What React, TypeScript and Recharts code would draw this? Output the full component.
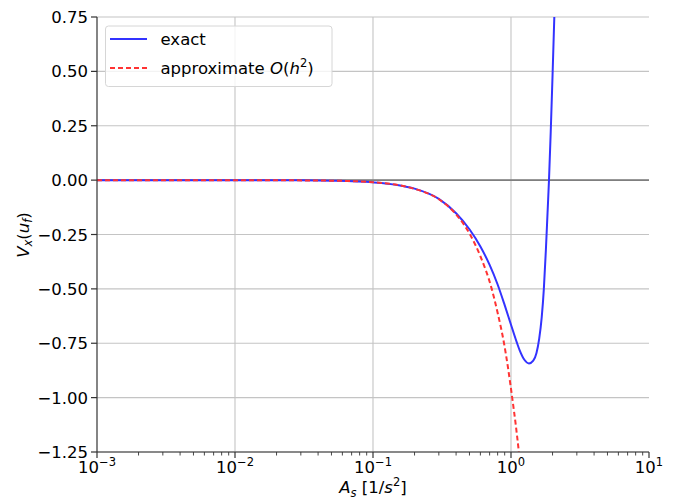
import React from "react";
import { LineChart, Line, XAxis, YAxis, CartesianGrid, ReferenceLine } from "recharts";

const exactX = [0.001, 0.01, 0.03, 0.05, 0.1, 0.15, 0.2, 0.3, 0.4, 0.5, 0.6, 0.7, 0.8, 0.9, 1.0, 1.1, 1.16, 1.25, 1.35, 1.45, 1.53, 1.6, 1.67, 1.73, 1.79, 1.84, 1.885, 1.94, 2.0, 2.06, 2.12];
const exactY = [0, -0.0001, -0.0009, -0.0025, -0.01, -0.022, -0.039, -0.086, -0.152, -0.226, -0.305, -0.39, -0.48, -0.575, -0.665, -0.745, -0.785, -0.826, -0.843, -0.83, -0.795, -0.73, -0.63, -0.5, -0.32, -0.15, 0, 0.22, 0.48, 0.75, 1.02];

const approxX = [0.001, 0.01, 0.05, 0.1, 0.2, 0.3, 0.4, 0.505, 0.6, 0.725, 0.8, 0.89, 0.95, 1.02, 1.08, 1.14, 1.17];
const approxY = [0, -0.0001, -0.0025, -0.01, -0.04, -0.088, -0.157, -0.25, -0.35, -0.5, -0.61, -0.75, -0.86, -1.0, -1.12, -1.25, -1.32];

const xMajorTicks = [0.001, 0.01, 0.1, 1, 10];
const xTickExponents = ["\u22123", "\u22122", "\u22121", "0", "1"];
const yTicks = [0.75, 0.5, 0.25, 0, -0.25, -0.5, -0.75, -1.0, -1.25];

const exactData = exactX.map((x, i) => ({ x, y: exactY[i] }));
const approxData = approxX.map((x, i) => ({ x, y: approxY[i] }));

const allXTicks: number[] = [];
xMajorTicks.forEach((t, i) => {
  allXTicks.push(t);
  if (i < xMajorTicks.length - 1) {
    for (let d = 2; d <= 9; d++) allXTicks.push(parseFloat((t * d).toPrecision(3)));
  }
});

const FONT = "'DejaVu Sans', sans-serif";
const FS = 16.5;
const AXIS = "#333333";

const fmtY = (v: number) => {
  const s = Math.abs(v).toFixed(2);
  return v < 0 ? "\u2212" + s : s;
};

const XTick = (props: any) => {
  const { x, y, payload } = props;
  const idx = xMajorTicks.indexOf(payload.value);
  const major = idx >= 0;
  return (
    <g>
      <line x1={x} x2={x} y1={y} y2={y + (major ? 6 : 3.5)} stroke={AXIS} strokeWidth={major ? 1.2 : 0.9} />
      {major && (
        <text x={x} y={y + 21} textAnchor="middle" fontFamily={FONT} fontSize={FS} fill="#000">
          <tspan>10</tspan>
          <tspan dy={-7} fontSize={11.5}>{xTickExponents[idx]}</tspan>
        </text>
      )}
    </g>
  );
};

const YTick = (props: any) => {
  const { x, y, payload } = props;
  return (
    <g>
      <line x1={x - 6} x2={x} y1={y} y2={y} stroke={AXIS} strokeWidth={1.2} />
      <text x={x - 9} y={y + 6} textAnchor="end" fontFamily={FONT} fontSize={FS} fill="#000">
        {fmtY(payload.value)}
      </text>
    </g>
  );
};

export default function App() {
  return (
    <div style={{ position: "absolute", left: 0, top: 0, width: 677, height: 502, background: "#fff" }}>
      <LineChart width={677} height={502} margin={{ top: 17, right: 28, bottom: 0, left: 0 }}>
        <CartesianGrid vertical={false} stroke="#c4c4c4" strokeWidth={1.1} />
        <XAxis
          dataKey="x"
          type="number"
          scale="log"
          domain={[0.001, 10]}
          allowDataOverflow
          ticks={allXTicks}
          interval={0}
          tick={<XTick />}
          tickSize={0}
          tickMargin={0}
          tickLine={false}
          height={50}
          axisLine={{ stroke: AXIS, strokeWidth: 1.2 }}
        />
        <XAxis
          xAxisId="top"
          orientation="top"
          dataKey="x"
          type="number"
          scale="log"
          domain={[0.001, 10]}
          allowDataOverflow
          height={0}
          tick={false}
          tickLine={false}
          axisLine={{ stroke: AXIS, strokeWidth: 1.2 }}
        />
        <YAxis
          type="number"
          domain={[-1.25, 0.75]}
          allowDataOverflow
          ticks={yTicks}
          interval={0}
          tick={<YTick />}
          tickSize={0}
          tickMargin={0}
          tickLine={false}
          width={97}
          axisLine={{ stroke: AXIS, strokeWidth: 1.2 }}
        />
        <YAxis
          yAxisId="right"
          orientation="right"
          type="number"
          domain={[-1.25, 0.75]}
          allowDataOverflow
          width={0}
          tick={false}
          tickLine={false}
          axisLine={{ stroke: AXIS, strokeWidth: 1.2 }}
        />
        {xMajorTicks.slice(1, -1).map((t) => (
          <ReferenceLine key={t} x={t} stroke="#c4c4c4" strokeWidth={1.1} />
        ))}
        <ReferenceLine y={0} stroke="#7f7f7f" strokeWidth={1.6} />
        <Line
          data={exactData}
          dataKey="y"
          type="monotone"
          stroke="#3333ff"
          strokeWidth={2}
          dot={false}
          activeDot={false}
          isAnimationActive={false}
        />
        <Line
          data={approxData}
          dataKey="y"
          type="monotone"
          stroke="#ff3333"
          strokeWidth={2}
          strokeDasharray="5 3"
          dot={false}
          activeDot={false}
          isAnimationActive={false}
        />
      </LineChart>
      <svg width={677} height={502} style={{ position: "absolute", left: 0, top: 0, pointerEvents: "none" }}>
        <g transform="translate(28.5,235) rotate(-90)">
          <text x={0} y={0} textAnchor="middle" fontFamily={FONT} fontSize={FS} fill="#000">
            <tspan fontStyle="italic">V</tspan>
            <tspan fontStyle="italic" fontSize={11.5} dy={3.5}>x</tspan>
            <tspan dy={-3.5}>(</tspan>
            <tspan fontStyle="italic">u</tspan>
            <tspan fontStyle="italic" fontSize={11.5} dy={3.5}>f</tspan>
            <tspan dy={-3.5}>)</tspan>
          </text>
        </g>
        <text x={373} y={493} textAnchor="middle" fontFamily={FONT} fontSize={FS} fill="#000">
          <tspan fontStyle="italic">A</tspan>
          <tspan fontStyle="italic" fontSize={11.5} dy={3.5}>s</tspan>
          <tspan dy={-3.5}> [1/</tspan>
          <tspan fontStyle="italic">s</tspan>
          <tspan fontSize={11.5} dy={-7}>2</tspan>
          <tspan dy={7}>]</tspan>
        </text>
        <rect x={105.5} y={26} width={226.5} height={60.5} rx={3} fill="rgba(255,255,255,0.8)" stroke="#d6d6d6" strokeWidth={1} />
        <line x1={110} x2={147} y1={39} y2={39} stroke="#3333ff" strokeWidth={2} />
        <text x={160.5} y={45} fontFamily={FONT} fontSize={FS} fill="#000">exact</text>
        <line x1={110} x2={147} y1={68} y2={68} stroke="#ff3333" strokeWidth={2} strokeDasharray="5 3" />
        <text x={160.5} y={74} fontFamily={FONT} fontSize={FS} fill="#000">
          <tspan>approximate </tspan>
          <tspan fontStyle="italic">O</tspan>
          <tspan>(</tspan>
          <tspan fontStyle="italic">h</tspan>
          <tspan fontSize={11.5} dy={-7}>2</tspan>
          <tspan dy={7}>)</tspan>
        </text>
      </svg>
    </div>
  );
}
